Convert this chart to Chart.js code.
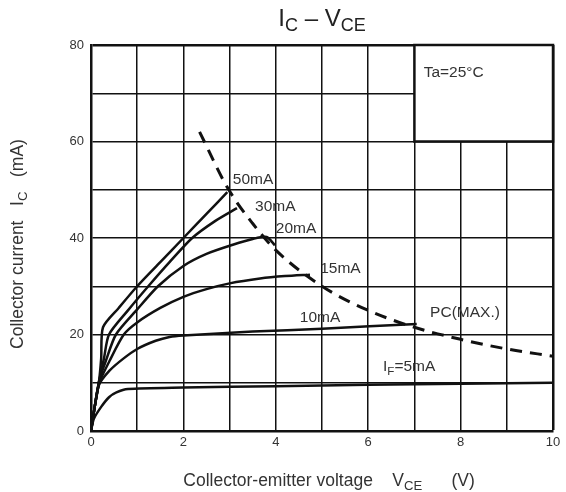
<!DOCTYPE html>
<html>
<head>
<meta charset="utf-8">
<title>IC - VCE</title>
<style>
  body { margin: 0; background: #fff; }
  #chart { display: block; }
</style>
</head>
<body>
<canvas id="chart" width="566" height="492"></canvas>
<script src="https://cdn.jsdelivr.net/npm/chart.js@4.4.1/dist/chart.umd.min.js"></script>
<script>
// curves: [VCE (V), IC (mA)]
var curve50 = [[0,0],[0.08,5],[0.17,10],[0.22,15],[0.26,21.5],[0.6,25.5],[1.0,30],[1.5,35],[2.0,40],[2.5,45],[2.95,49.5]];
var curve30 = [[0,0],[0.08,5],[0.18,10.5],[0.28,15],[0.39,20],[0.8,25],[1.24,30],[1.7,35],[2.19,40],[2.7,43.6],[3.16,46.2]];
var curve20 = [[0,0],[0.08,5],[0.18,10.5],[0.32,14.5],[0.54,20],[1.0,25.2],[1.45,30],[2.0,34.2],[2.5,36.7],[3.07,38.6],[3.5,39.8],[3.8,40.2],[3.98,38.5]];
var curve15 = [[0,0],[0.08,5],[0.18,10],[0.4,14.5],[0.71,20],[1.0,22.5],[1.5,25.5],[2.0,27.8],[2.5,29.4],[3.0,30.6],[3.66,31.6],[4.2,32.1],[4.74,32.4]];
var curve10 = [[0,0],[0.08,5],[0.17,9.5],[0.4,12.5],[0.7,15],[1.0,17],[1.4,18.7],[1.7,19.5],[2.0,19.8],[3.5,20.6],[5.0,21.2],[7.05,22.2]];
var curve5 = [[0,0],[0.06,2.5],[0.22,5],[0.39,7],[0.55,8],[0.8,8.7],[2,9],[4,9.3],[6,9.6],[8,9.8],[10,10]];
var pcMax = [[2.35,62],[2.95,50.5],[3.5,43],[4,37.5],[5,30],[6,25],[7,21.5],[8,19],[9,17],[10,15.5]];

var xTicks = [0, 2, 4, 6, 8, 10];
var yTicks = [0, 20, 40, 60, 80];

// curve labels, at data coordinates [VCE, IC]
var curveLabels = [
  { text: [['50mA']], at: [3.07, 52.0] },
  { text: [['30mA']], at: [3.55, 46.4] },
  { text: [['20mA']], at: [4.0, 42.0] },
  { text: [['15mA']], at: [4.96, 33.7] },
  { text: [['10mA']], at: [4.52, 23.4] },
  { text: [['PC(MAX.)']], at: [7.34, 24.6] },
  { text: [['I'], ['F', true], ['=5mA']], at: [6.32, 13.3] },
  { text: [['Ta=25°C']], at: [7.2, 74.3] }
];

function pts(arr) {
  return arr.map(function (p) { return { x: p[0], y: p[1] }; });
}

function curve(arr) {
  return {
    data: pts(arr),
    borderColor: '#111',
    borderWidth: 2.5,
    pointRadius: 0,
    showLine: true,
    tension: 0.25
  };
}

// draws text with optional subscript parts
function richText(ctx, parts, x, y, size, align) {
  var w = 0;
  parts.forEach(function (p) {
    ctx.font = (p[1] ? size * 0.75 : size) + 'px "Liberation Sans", Arial, sans-serif';
    w += ctx.measureText(p[0]).width;
  });
  var cx = align === 'center' ? x - w / 2 : x;
  ctx.textAlign = 'left';
  ctx.textBaseline = 'middle';
  parts.forEach(function (p) {
    ctx.font = (p[1] ? size * 0.75 : size) + 'px "Liberation Sans", Arial, sans-serif';
    ctx.fillText(p[0], cx, p[1] ? y + size * 0.3 : y);
    cx += ctx.measureText(p[0]).width;
  });
}

var boxPlugin = {
  id: 'boxPlugin',
  beforeDatasetsDraw: function (chart) {
    var ctx = chart.ctx, xs = chart.scales.x, ys = chart.scales.y;
    var l = xs.getPixelForValue(7), r = xs.getPixelForValue(10);
    var t = ys.getPixelForValue(80), b = ys.getPixelForValue(60);
    ctx.save();
    ctx.fillStyle = '#fff';
    ctx.fillRect(l, t, r - l, b - t);
    ctx.strokeStyle = '#111';
    ctx.lineWidth = 2.5;
    ctx.strokeRect(l, t, r - l, b - t);
    ctx.restore();
  },
  afterDraw: function (chart) {
    var ctx = chart.ctx, xs = chart.scales.x, ys = chart.scales.y, area = chart.chartArea;
    ctx.save();
    ctx.fillStyle = '#333';
    curveLabels.forEach(function (lb) {
      richText(ctx, lb.text, xs.getPixelForValue(lb.at[0]), ys.getPixelForValue(lb.at[1]), 15.5, 'left');
    });
    ctx.fillStyle = '#222';
    richText(ctx, [['I'], ['C', true], [' \u2013 V'], ['CE', true]], (area.left + area.right) / 2, 19, 24, 'center');
    ctx.fillStyle = '#333';
    richText(ctx, [['Collector-emitter voltage    V'], ['CE', true], ['      (V)']], 329, 481, 17.5, 'center');
    ctx.translate(18, 244);
    ctx.rotate(-Math.PI / 2);
    richText(ctx, [['Collector current   I'], ['C', true], ['   (mA)']], 0, 0, 17.5, 'center');
    ctx.restore();
  }
};

new Chart(document.getElementById('chart'), {
  type: 'scatter',
  data: {
    datasets: [curve50, curve30, curve20, curve15, curve10, curve5].map(curve).concat([{
      data: pts(pcMax),
      borderColor: '#111',
      borderWidth: 3,
      borderDash: [12, 8],
      pointRadius: 0,
      showLine: true,
      cubicInterpolationMode: 'monotone'
    }])
  },
  options: {
    responsive: false,
    animation: false,
    layout: { padding: { top: 45, right: 13, left: 0, bottom: 0 } },
    plugins: { legend: { display: false }, tooltip: { enabled: false } },
    scales: {
      x: {
        type: 'linear', min: 0, max: 10,
        afterFit: function (s) { s.height = 61; },
        border: { color: '#111', width: 2.5 },
        grid: {
          color: '#111',
          drawTicks: false,
          lineWidth: function (c) { return c.tick && c.tick.value === 10 ? 2.5 : 1.5; }
        },
        ticks: {
          stepSize: 1, padding: 4, color: '#333', maxRotation: 0,
          font: { size: 13, family: '"Liberation Sans", Arial, sans-serif' },
          callback: function (v) { return xTicks.indexOf(v) >= 0 ? v : ''; }
        }
      },
      y: {
        type: 'linear', min: 0, max: 80,
        afterFit: function (s) { s.width = 91; },
        border: { color: '#111', width: 2.5 },
        grid: {
          color: '#111',
          drawTicks: false,
          lineWidth: function (c) { return c.tick && c.tick.value === 80 ? 2.5 : 1.5; }
        },
        ticks: {
          stepSize: 10, padding: 7, color: '#333',
          font: { size: 13, family: '"Liberation Sans", Arial, sans-serif' },
          callback: function (v) { return yTicks.indexOf(v) >= 0 ? v : ''; }
        }
      }
    }
  },
  plugins: [boxPlugin]
});
</script>
</body>
</html>
